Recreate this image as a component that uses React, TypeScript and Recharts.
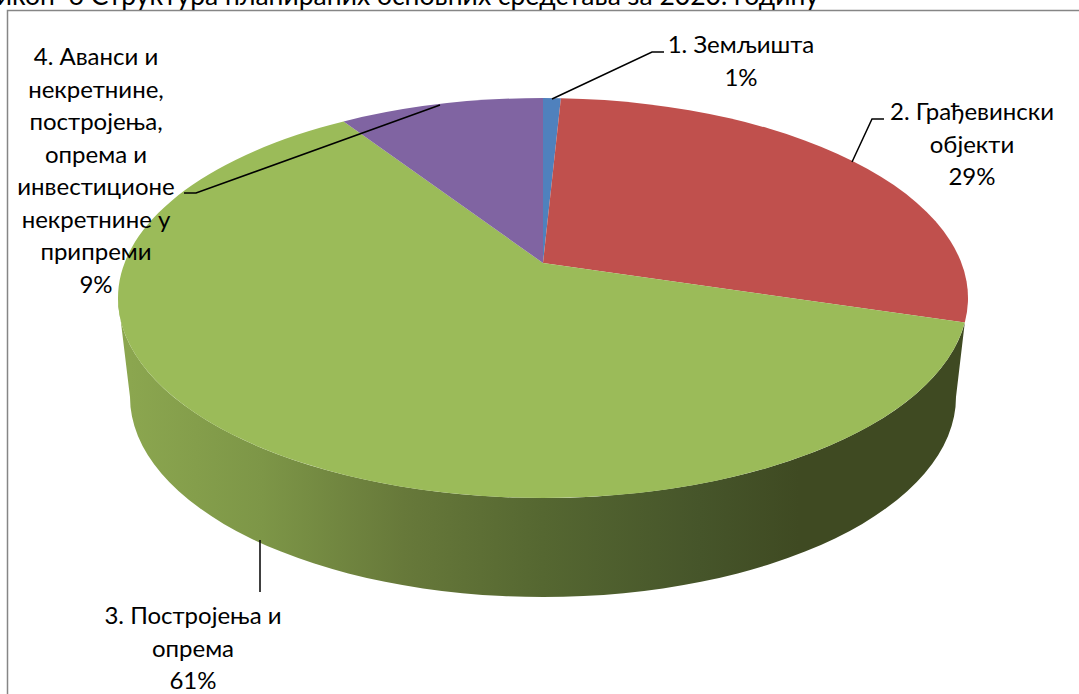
import { Pie, PieChart } from "recharts";

const categories = [
  "1. Земљишта",
  "2. Грађевински објекти",
  "3. Постројења и опрема",
  "4. Аванси и некретнине, постројења, опрема и инвестиционе некретнине у припреми",
];
const values = [0.8, 28.9, 61.1, 9.2];
const colors = ["#4f81bd", "#c0504d", "#9bbb59", "#8064a2"];
const wrappedNames = [
  ["1. Земљишта"],
  ["2. Грађевински", "објекти"],
  ["3. Постројења и", "опрема"],
  ["4. Аванси и", "некретнине,", "постројења,", "опрема и", "инвестиционе", "некретнине у", "припреми"],
];
const title = "Графикон  6 Структура планираних основних средстава за 2020. годину";

const data = categories.map((name, i) => ({ name, value: values[i], fill: colors[i] }));

// where each data label sits, and its leader line
const labelLayout = [
  { x: 741, y: 53, leader: "M552 99 L652 52 L664 52" },
  { x: 972, y: 120, leader: "M852 162 L872 119 L884 119" },
  { x: 193, y: 624, leader: "M260 540 L260 592" },
  { x: 96, y: 65, leader: "M440 105 L196 193 L184 193" },
];

const LINE_HEIGHT = 32.5;
const FONT = "Lato, 'Open Sans', sans-serif";

// the disc is seen in perspective: the apex sits above the centre of the ellipse
const RX = 425;
const RY = 200;
const APEX_SHIFT = 35;
const PERSPECTIVE = 0.838;
// bottom face of the disc
const BOTTOM_RX = 413;
const BOTTOM_DROP = 99;

const rimAngle = (theta: number) => {
  const t = (theta * Math.PI) / 360;
  let phi = 2 * Math.atan(PERSPECTIVE * Math.tan(t));
  if (phi < 0) phi += 2 * Math.PI;
  if (theta >= 360) phi = 2 * Math.PI;
  return phi;
};

const Slice = (props: any) => {
  const { cx, cy, startAngle, endAngle, fill, index } = props;
  const a0 = rimAngle(90 - startAngle);
  const a1 = rimAngle(90 - endAngle);
  const ey = cy + APEX_SHIFT;
  const x0 = cx + RX * Math.sin(a0);
  const y0 = ey - RY * Math.cos(a0);
  const x1 = cx + RX * Math.sin(a1);
  const y1 = ey - RY * Math.cos(a1);
  const large = a1 - a0 > Math.PI ? 1 : 0;
  const top = `M${cx} ${cy} L${x0} ${y0} A${RX} ${RY} 0 ${large} 1 ${x1} ${y1} Z`;
  // only the big slice shows its side from this viewpoint
  const wall =
    index === 2
      ? `M${x0} ${y0} L${cx + BOTTOM_RX} ${ey + BOTTOM_DROP} A${BOTTOM_RX} ${RY} 0 0 1 ${cx - BOTTOM_RX} ${ey + BOTTOM_DROP} L${cx - RX} ${ey} A${RX} ${RY} 0 0 0 ${x0} ${y0} Z`
      : null;
  return (
    <g>
      {wall && <path d={wall} fill="url(#wallShade)" />}
      <path d={top} fill={fill} />
    </g>
  );
};

const SliceLabel = (props: any) => {
  const { index, percent } = props;
  const layout = labelLayout[index];
  const lines = [...wrappedNames[index], `${Math.round(percent * 100)}%`];
  return (
    <g>
      <path d={layout.leader} fill="none" stroke="#000" strokeWidth={1.5} />
      <text x={layout.x} y={layout.y} textAnchor="middle" fontFamily={FONT} fontSize={24} fill="#000">
        {lines.map((line, i) => (
          <tspan key={i} x={layout.x} y={layout.y + i * LINE_HEIGHT}>
            {line}
          </tspan>
        ))}
      </text>
    </g>
  );
};

export default function App() {
  return (
    <div style={{ position: "absolute", left: 0, top: 0, width: 1079, height: 694, background: "#fff" }}>
      <PieChart width={1079} height={694} margin={{ top: 0, right: 0, bottom: 0, left: 0 }}>
        <defs>
          <linearGradient id="wallShade" gradientUnits="userSpaceOnUse" x1={130} y1={0} x2={956} y2={0}>
            <stop offset="0" stopColor="#8ba64f" />
            <stop offset="0.16" stopColor="#7d9647" />
            <stop offset="0.33" stopColor="#67793a" />
            <stop offset="0.5" stopColor="#556731" />
            <stop offset="0.69" stopColor="#46552a" />
            <stop offset="0.81" stopColor="#3f4a22" />
            <stop offset="1" stopColor="#3f4a22" />
          </linearGradient>
        </defs>
        <path d="M7.5 694 V10.5 H1079" fill="none" stroke="#868686" strokeWidth={1.5} />
        <text
          x={819}
          y={5}
          textAnchor="end"
          fontFamily={FONT}
          fontSize={26.5}
          fill="#000"
          style={{ whiteSpace: "pre" }}
        >
          {title}
        </text>
        <Pie
          data={data}
          dataKey="value"
          nameKey="name"
          cx={543}
          cy={263}
          outerRadius={RX}
          startAngle={90}
          endAngle={-270}
          stroke="none"
          shape={Slice}
          label={SliceLabel}
          labelLine={false}
          isAnimationActive={false}
        />
      </PieChart>
    </div>
  );
}
